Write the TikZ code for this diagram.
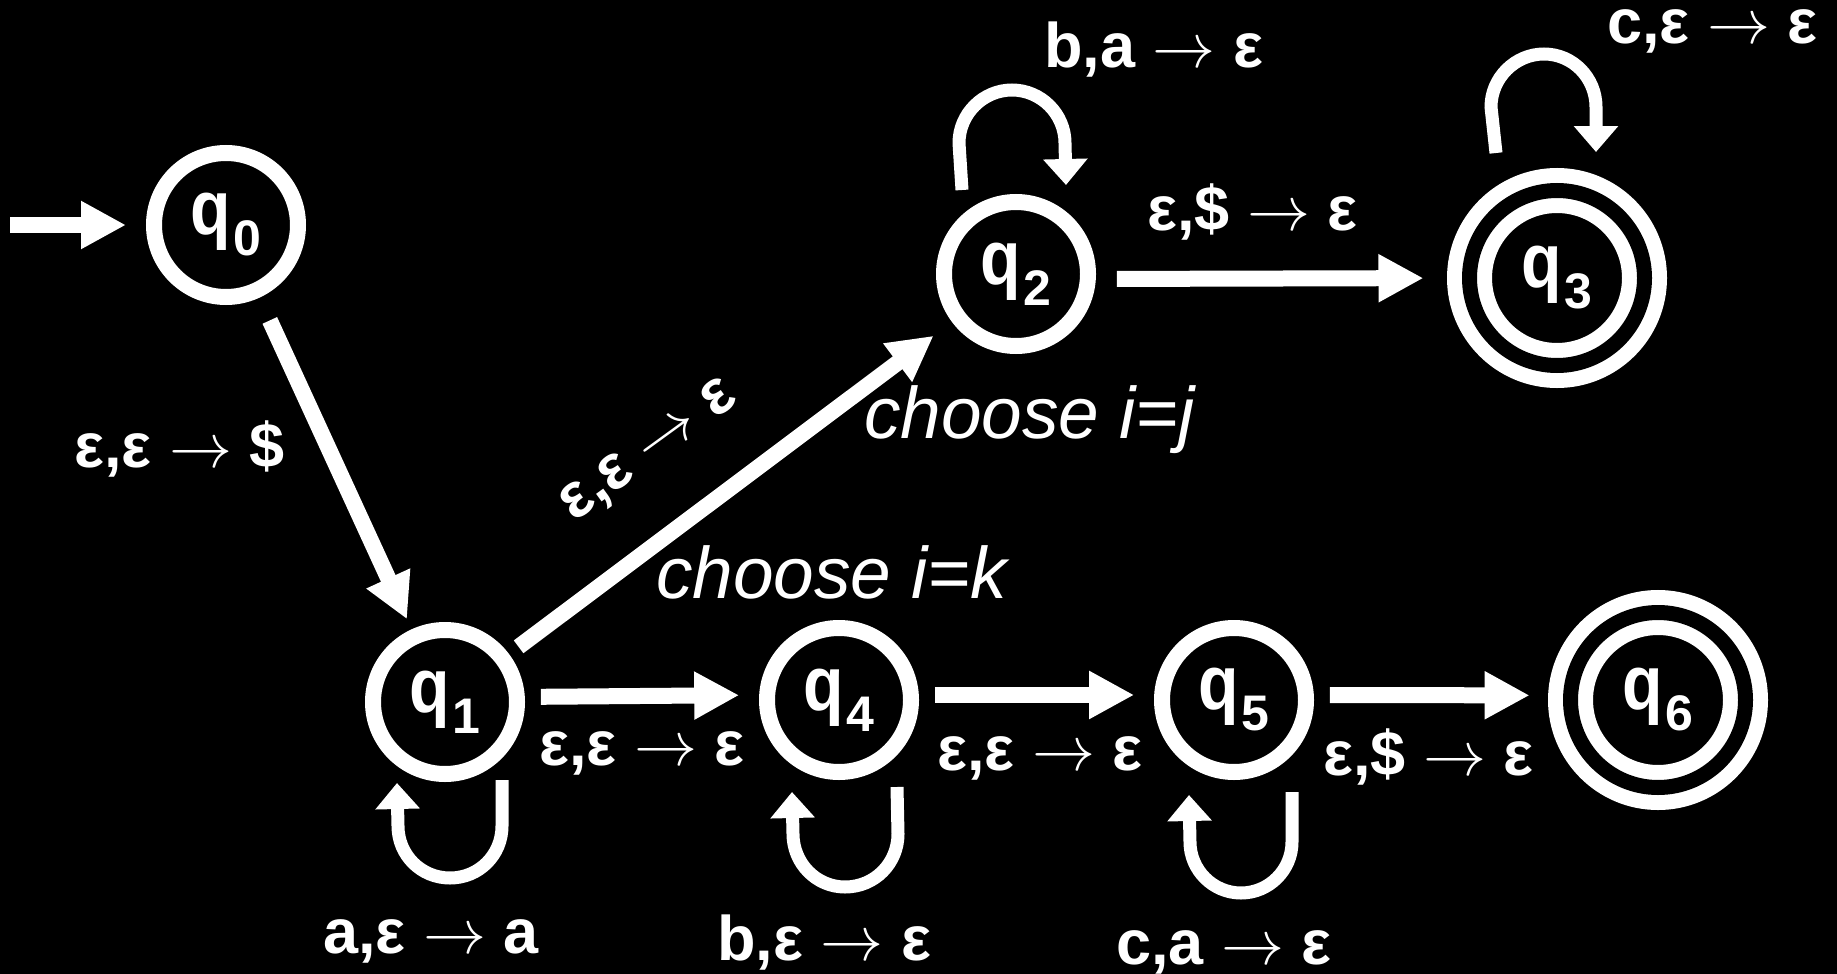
\documentclass[tikz,border=0pt]{standalone}
\usepackage{fontspec}
\usepackage{graphicx}
\setmainfont{Liberation Sans}
\usetikzlibrary{arrows.meta,calc}
\newcommand\arr{\scalebox{6.3}{\fontsize{10}{12}\selectfont$\rightarrow$}}
\newcommand\qlab[1]{{\fontsize{77}{84}\selectfont\bfseries\scalebox{0.86}[1]{q}\kern2pt\raisebox{-21pt}{\fontsize{50}{54}\selectfont #1}}}
\begin{document}
\begin{tikzpicture}[x=1pt,y=-1pt,
  state/.style={circle,draw=white,line width=16pt,minimum size=144pt,inner sep=0pt,outer sep=0pt,text=white},
  accept/.style={circle,draw=white,line width=15pt,double=black,double distance=15pt,minimum size=175pt,inner sep=0pt,outer sep=0pt,text=white},
  edgest/.style={draw=white,line width=16pt,-{Triangle[length=45pt,width=45pt]}},
  loopst/.style={draw=white,line width=13pt,-{Triangle[length=26pt,width=43pt]}},
  lbl/.style={text=white,font=\bfseries\fontsize{63}{70}\selectfont,inner sep=0pt,anchor=base west},
  ital/.style={text=white,font=\itshape\fontsize{73}{80}\selectfont,inner sep=0pt,anchor=base west},
]
\fill[black] (0,0) rectangle (1837,974);
\useasboundingbox (0,0) rectangle (1837,974);

% states
\node[state]  (q0) at (226,225) {\qlab{0}};
\node[state]  (q1) at (445,702) {\qlab{1}};
\node[state]  (q2) at (1016,274) {\qlab{2}};
\node[accept] (q3) at (1557,278) {\qlab{3}};
\node[state]  (q4) at (839,700) {\qlab{4}};
\node[state]  (q5) at (1234,700) {\qlab{5}};
\node[accept] (q6) at (1658,700) {\qlab{6}};

% start arrow
\coordinate (init) at (10,225);
\draw[edgest, shorten >=28pt] (init) -- (q0);

% transitions
\draw[edgest, shorten <=33pt, shorten >=19pt] (q0) -- (q1);
\draw[edgest, shorten <=20pt, shorten >=31pt] (q1) -- (q2);
\draw[edgest, shorten <=29pt, shorten >=46pt] (q2.-4) -- (q3.180);
\draw[edgest, shorten <=24pt, shorten >=28pt] (q1.4) -- (q4.176);
\draw[edgest, shorten <=24pt, shorten >=28pt] (q4.4) -- (q5.176);
\draw[edgest, shorten <=24pt, shorten >=41pt] (q5.4) -- (q6.177);

% self loops (below)
\draw[loopst] ($(q1)+(57,78)$) -- ($(q1)+(57,124)$)
  .. controls ($(q1)+(57,153)$) and ($(q1)+(34,176)$) .. ($(q1)+(5,176)$)
  .. controls ($(q1)+(-24,176)$) and ($(q1)+(-47,153)$) .. ($(q1)+(-47,124)$)
  -- ($(q1)+(-48,81)$);
\draw[loopst] ($(q4)+(58,87)$) -- ($(q4)+(59,134)$)
  .. controls ($(q4)+(59,163)$) and ($(q4)+(36,187)$) .. ($(q4)+(6,187)$)
  .. controls ($(q4)+(-23,187)$) and ($(q4)+(-46,163)$) .. ($(q4)+(-46,134)$)
  -- ($(q4)+(-47,92)$);
\draw[loopst] ($(q5)+(58,92)$) -- ($(q5)+(58,142)$)
  .. controls ($(q5)+(58,170)$) and ($(q5)+(35,193)$) .. ($(q5)+(7,193)$)
  .. controls ($(q5)+(-21,193)$) and ($(q5)+(-44,170)$) .. ($(q5)+(-44,142)$)
  -- ($(q5)+(-45,95)$);
% self loops (above)
\draw[loopst] ($(q2)+(-54,-84)$) -- ($(q2)+(-57,-131)$)
  .. controls ($(q2)+(-57,-160)$) and ($(q2)+(-33,-184)$) .. ($(q2)+(-4,-184)$)
  .. controls ($(q2)+(25,-184)$) and ($(q2)+(49,-160)$) .. ($(q2)+(49,-131)$)
  -- ($(q2)+(50,-89)$);
\draw[loopst] ($(q3)+(-61,-125)$) -- ($(q3)+(-66,-171)$)
  .. controls ($(q3)+(-66,-200)$) and ($(q3)+(-42,-224)$) .. ($(q3)+(-13,-224)$)
  .. controls ($(q3)+(16,-224)$) and ($(q3)+(39,-200)$) .. ($(q3)+(39,-171)$)
  -- ($(q3)+(39,-126)$);

% labels
\node[lbl] (l01) at (74,467) {ε,ε \arr{} \$};
\node[lbl, anchor=center, rotate=36] (l12) at (650,452) {ε,ε \arr{} ε};
\node[lbl] (l22) at (1044,67) {b,a \arr{} ε};
\node[lbl] (l23) at (1147,230) {ε,\$ \arr{} ε};
\node[lbl] (l33) at (1607,44) {c,ε \arr{} ε};
\node[lbl] (l14) at (539,765) {ε,ε \arr{} ε};
\node[lbl] (l45) at (937,770) {ε,ε \arr{} ε};
\node[lbl] (l56) at (1323,775) {ε,\$ \arr{} ε};
\node[lbl] (l11) at (323,953) {a,ε \arr{} a};
\node[lbl] (l44) at (717,960) {b,ε \arr{} ε};
\node[lbl] (l55) at (1116,964) {c,a \arr{} ε};
\node[ital] (cj) at (864,438) {choose i=j};
\node[ital] (ck) at (656,598) {choose i=k};
\end{tikzpicture}
\end{document}
